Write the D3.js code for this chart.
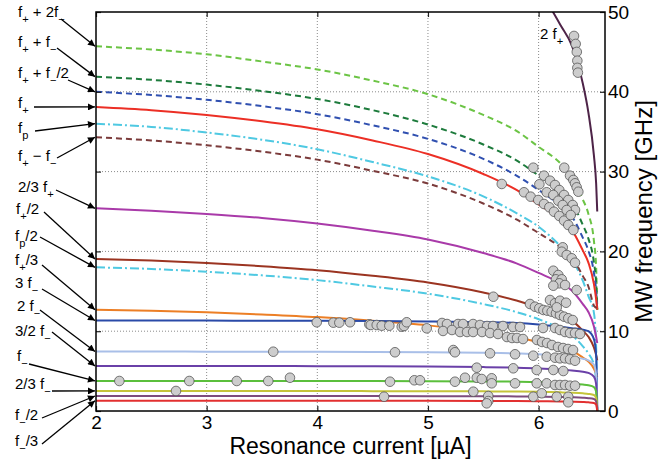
<!DOCTYPE html>
<html><head><meta charset="utf-8">
<script src="https://cdn.jsdelivr.net/npm/d3@7"></script>
<style>
body{margin:0;background:#fff}
svg{display:block;font-family:"Liberation Sans",Arial,Helvetica,sans-serif}
text{white-space:pre}
</style>
</head><body><svg id="c" width="669" height="464"></svg>
<script>
// ---------- data ----------
const currents = [2, 2.5, 3, 3.5, 4, 4.5, 5, 5.5, 5.8, 6.0, 6.2, 6.3, 6.4, 6.45, 6.5, 6.52, 6.53];
const fPlusPlus2fMinus   = [45.7, 45.3, 44.7, 43.8, 42.8, 41.4, 39.7, 37.1, 35.1, 33.1, 31.0, 29.4, 26.5, 24.7, 21.3, 18.0, 12.7];
const fPlusPlusfMinus    = [41.9, 41.5, 40.9, 40.1, 39.1, 37.7, 35.9, 33.4, 31.4, 29.5, 27.5, 26.1, 23.3, 21.6, 18.6, 16.0, 12.7];
const fPlusPlusHalfMinus = [40.0, 39.6, 39.0, 38.2, 37.2, 35.8, 34.1, 31.6, 29.5, 27.7, 25.7, 24.4, 21.7, 20.1, 17.3, 15.0, 12.7];
const fPlus              = [38.1, 37.7, 37.1, 36.3, 35.3, 33.9, 32.2, 29.7, 27.7, 25.9, 24.0, 22.7, 20.1, 18.6, 15.9, 14.0, 12.7];
const fP                 = [36.0, 35.6, 34.9, 34.0, 32.8, 31.2, 29.4, 26.9, 24.8, 23.1, 20.6, 19.0, 16.3, 14.4, 12.3, 8.0, 0];
const fPlusMinusfMinus   = [34.3, 33.9, 33.3, 32.5, 31.5, 30.1, 28.5, 26.0, 24.0, 22.3, 20.5, 19.3, 16.9, 15.6, 13.2, 12.9, 12.6];
const twoThirdsfPlus     = [25.4, 25.1, 24.7, 24.2, 23.5, 22.6, 21.5, 19.8, 18.5, 17.3, 16.0, 15.1, 13.4, 12.4, 10.6, 9.3, 8.5];
const halffPlus          = [19.05, 18.85, 18.55, 18.15, 17.65, 16.95, 16.1, 14.85, 13.85, 12.95, 12.0, 11.35, 10.05, 9.3, 7.95, 7.0, 6.35];
const halffP             = [18.0, 17.8, 17.45, 17.0, 16.4, 15.6, 14.7, 13.4, 12.4, 11.5, 10.3, 9.5, 8.1, 7.2, 5.8, 3.5, 0];
const thirdfPlus         = [12.7, 12.57, 12.37, 12.1, 11.77, 11.3, 10.73, 9.9, 9.23, 8.63, 8.0, 7.57, 6.7, 6.2, 5.3, 4.67, 4.23];
const threefMinus        = [11.34, 11.34, 11.33, 11.32, 11.31, 11.28, 11.22, 11.13, 11.04, 10.85, 10.55, 10.38, 10.2, 10.0, 9.0, 7.0, 0];
const twofMinus          = [7.45, 7.45, 7.44, 7.43, 7.42, 7.4, 7.37, 7.3, 7.22, 7.12, 6.9, 6.75, 6.55, 6.35, 5.8, 4.5, 0];
const threeHalvesfMinus  = [5.65, 5.65, 5.64, 5.63, 5.62, 5.6, 5.57, 5.5, 5.42, 5.33, 5.18, 5.08, 4.93, 4.78, 4.3, 3.4, 0];
const fMinus             = [3.77, 3.77, 3.77, 3.76, 3.76, 3.75, 3.74, 3.71, 3.68, 3.63, 3.52, 3.44, 3.32, 3.22, 3.0, 2.4, 0];
const twoThirdsfMinus    = [2.51, 2.51, 2.51, 2.5, 2.5, 2.49, 2.48, 2.46, 2.44, 2.41, 2.34, 2.29, 2.21, 2.14, 2.0, 1.6, 0];
const halffMinus         = [1.88, 1.88, 1.88, 1.88, 1.88, 1.87, 1.86, 1.85, 1.83, 1.81, 1.76, 1.72, 1.66, 1.61, 1.5, 1.2, 0];
const thirdfMinus        = [1.29, 1.29, 1.29, 1.28, 1.28, 1.28, 1.27, 1.26, 1.25, 1.23, 1.2, 1.17, 1.13, 1.09, 1.0, 0.8, 0];

const twofPlusCurrents = [6.05, 6.13, 6.2, 6.3, 6.4, 6.45, 6.5, 6.52, 6.53];
const twofPlus         = [51.8, 50.0, 48.3, 45.8, 41.0, 37.4, 32.0, 28.5, 25.0];

const seriesLabels = [
  "f{+} + 2f{−}", "f{+} + f{−}", "f{+} + f{−}/2", "f{+}", "f{p}", "f{+} − f{−}",
  "2/3 f{+}", "f{+}/2", "f{p}/2", "f{+}/3", "3 f{−}", "2 f{−}", "3/2 f{−}",
  "f{−}", "2/3 f{−}", "f{−}/2", "f{−}/3"
];
const seriesValues = [
  fPlusPlus2fMinus, fPlusPlusfMinus, fPlusPlusHalfMinus, fPlus, fP, fPlusMinusfMinus,
  twoThirdsfPlus, halffPlus, halffP, thirdfPlus, threefMinus, twofMinus, threeHalvesfMinus,
  fMinus, twoThirdsfMinus, halffMinus, thirdfMinus
];

// measured resonances [current µA, frequency GHz]
const observed = [
  [6.32,47.0],[6.335,46.0],[6.345,45.0],[6.35,43.9],[6.35,43.0],[6.355,42.4],
  [5.667,28.45],[5.952,30.49],[6.232,30.49],[6.049,29.49],[6.007,28.41],[6.073,27.41],
  [6.103,28.86],[6.148,28.32],[6.187,27.69],[6.230,27.07],[6.268,26.44],[6.308,25.81],
  [6.329,25.19],[6.284,29.49],[6.314,28.95],[6.329,28.53],[6.344,28.03],[6.359,27.48],
  [5.868,27.41],[5.928,26.86],[5.997,26.44],[6.049,25.94],[6.097,25.53],[6.139,24.97],
  [6.187,24.44],[6.230,23.85],[6.268,23.31],[6.314,22.68],[6.133,27.07],[6.178,26.35],
  [6.218,25.81],[6.254,25.19],[6.290,24.56],[6.218,20.51],
  [6.209,19.96],[6.254,19.55],[6.299,19.14],[6.329,18.58],[6.133,17.58],[6.178,17.04],
  [6.157,16.50],[6.209,16.50],[6.187,16.00],[6.133,15.70],[6.239,15.79],[6.344,15.16],
  [5.591,14.32],[5.922,13.41],[5.967,13.07],[6.006,12.87],[6.043,12.66],[6.079,12.57],
  [6.118,12.44],[6.157,12.24],[6.193,12.03],[6.230,11.82],[6.268,11.62],[6.308,11.40],
  [6.103,13.91],[6.148,13.50],[6.193,13.82],[6.248,13.57],[6.164,12.99],
  [5.127,11.03],[5.172,10.90],[5.272,10.90],[5.317,10.90],[5.408,10.90],[5.470,10.78],
  [5.534,10.65],[5.588,10.65],[5.678,10.65],[5.769,10.53],[5.832,10.53],[6.040,10.40],
  [6.148,10.40],[6.193,10.15],[6.239,9.90],[6.284,9.77],[6.329,9.77],[6.374,9.65],
  [5.136,10.03],[5.217,10.15],[5.290,9.90],[5.353,9.90],[5.408,9.90],[5.489,9.90],
  [5.561,9.77],[5.633,9.65],[5.714,9.27],[5.760,9.15],[5.805,9.15],[5.859,9.02],
  [5.985,8.90],[6.031,8.65],[6.076,8.52],[6.121,8.27],[6.175,8.02],[6.221,7.89],
  [6.266,7.77],[6.311,7.64],
  [3.995,11.12],[4.145,11.07],[4.199,11.07],[4.296,11.12],[4.470,10.86],[4.483,10.78],
  [4.537,10.78],[4.582,10.69],[4.651,10.69],[4.763,10.56],[4.784,10.65],[4.808,11.12],
  [4.989,10.36],[4.702,7.36],[3.753,4.17],[4.657,3.67],[4.877,3.85],[4.928,3.85],[4.603,1.79],
  [2.211,3.76],[2.843,3.76],[3.272,3.76],[3.557,3.76],[2.723,2.51],[3.602,7.43],
  [5.229,7.64],[5.244,7.36],[5.561,7.23],[5.787,7.11],[5.952,6.93],[6.073,6.80],
  [6.148,6.68],[6.193,6.60],[6.239,6.60],[6.284,6.48],[6.329,6.30],
  [5.441,5.43],[5.771,5.35],[5.983,5.14],[6.133,5.14],[6.223,5.01],
  [5.244,3.67],[5.335,4.17],[5.441,4.17],[5.486,4.01],[5.576,4.10],[5.576,3.47],
  [5.787,3.47],[5.983,3.47],[6.073,3.47],[6.148,3.26],[6.193,3.26],[6.239,3.26],
  [6.284,3.17],[6.329,3.17],
  [5.410,2.42],[5.545,1.88],[5.545,1.25],[5.531,0.96],[5.952,1.79],[6.028,2.22],
  [6.164,1.79],[6.268,1.79],[6.268,1.09]
];

const xTicks = [2, 3, 4, 5, 6];
const yTicks = [0, 10, 20, 30, 40, 50];
const xTitle = "Resonance current [µA]";
const yTitle = "MW frequency [GHz]";

// ---------- styles / layout ----------
const seriesColors = ["#6cc445","#1d7b3c","#3050b0","#ec2f25","#4fc9e2","#7b3b3b",
  "#a93aa9","#9b3421","#4fc9e2","#ec7f26","#2a4aa8","#a9bfe8","#6a40a8",
  "#5bbf3c","#c5c43a","#7d4c7d","#e23030"];
const seriesDash = ["6,4","6,4","6,4",null,"9,3,2,3","6,4",null,null,"9,3,2,3",null,null,null,null,null,null,null,null];
// [text x, text baseline y, arrow start x, arrow start y]
const labelLayout = [
  [18,17,61,19],[18,47,57,48],[18,78,68,80],[18,108,34,107],[18,133,35,131],[18,161,57,158],
  [18,192,56,190],[16,214,44,212],[15,241,40,237],[15,265,42,265],[15,288,42,289],
  [17,311,40,310],[15,336,52,332],[17,361,29,364],[15,389,52,391],[15,420,42,418],[15,446,42,444]
];

const svg = d3.select("#c");
const x = d3.scaleLinear().domain([2, 6.6]).range([96, 605]);
const y = d3.scaleLinear().domain([0, 50]).range([411, 12]);

const defs = svg.append("defs");
defs.append("clipPath").attr("id","plotclip").append("rect")
  .attr("x",96).attr("y",12).attr("width",509).attr("height",399);
defs.append("marker").attr("id","arr").attr("viewBox","0 0 10 10")
  .attr("refX",10).attr("refY",5).attr("markerWidth",10).attr("markerHeight",7)
  .attr("markerUnits","userSpaceOnUse").attr("orient","auto")
  .append("path").attr("d","M0,0L10,5L0,10z").attr("fill","#000");

// grid
const grid = svg.append("g").attr("stroke","#8a8a8a").attr("stroke-width",1).attr("stroke-dasharray","1,2");
xTicks.filter(t => t > 2).forEach(t => grid.append("line")
  .attr("x1",x(t)).attr("x2",x(t)).attr("y1",y(50)).attr("y2",y(0)));
yTicks.filter(t => t > 0 && t < 50).forEach(t => grid.append("line")
  .attr("x1",x(2)).attr("x2",x(6.6)).attr("y1",y(t)).attr("y2",y(t)));

// curves
const line = d3.line().x(d => x(d[0])).y(d => y(d[1])).curve(d3.curveMonotoneX);
const curves = svg.append("g").attr("clip-path","url(#plotclip)").attr("fill","none");
seriesValues.forEach((vals, i) => {
  const p = curves.append("path")
    .attr("d", line(currents.map((c, j) => [c, vals[j]])))
    .attr("stroke", seriesColors[i]).attr("stroke-width", 2);
  if (seriesDash[i]) p.attr("stroke-dasharray", seriesDash[i]);
});
curves.append("path")
  .attr("d", line(twofPlusCurrents.map((c, j) => [c, twofPlus[j]])))
  .attr("stroke", "#4e2448").attr("stroke-width", 2);

// observed points
svg.append("g").selectAll("circle").data(observed).join("circle")
  .attr("cx", d => x(d[0])).attr("cy", d => y(d[1])).attr("r", 4.8)
  .attr("fill", "#cdcdcd").attr("stroke", "#555").attr("stroke-width", 0.8);

// axes
const axG = svg.append("g");
const axBottom = axG.append("g").attr("transform","translate(0,411)")
  .call(d3.axisBottom(x).tickValues(xTicks).tickSize(-5).tickPadding(5).tickFormat(d3.format("d")));
const axTop = axG.append("g").attr("transform","translate(0,12)")
  .call(d3.axisTop(x).tickValues(xTicks).tickSize(-5).tickFormat(""));
const axLeft = axG.append("g").attr("transform","translate(96,0)")
  .call(d3.axisLeft(y).tickValues(yTicks).tickSize(-5).tickFormat(""));
const axRight = axG.append("g").attr("transform","translate(605,0)")
  .call(d3.axisRight(y).tickValues(yTicks).tickSize(-5).tickPadding(3).tickFormat(d3.format("d")));
[axBottom, axTop, axLeft, axRight].forEach(g => {
  g.select(".domain").remove();
  g.selectAll(".tick line").attr("stroke","#222").attr("stroke-width",1.2);
  g.selectAll("text").attr("font-size",19).attr("fill","#000")
    .attr("font-family",'"Liberation Sans",Arial,sans-serif');
});

// frame
svg.append("rect").attr("x",96).attr("y",12).attr("width",509).attr("height",399)
  .attr("fill","none").attr("stroke","#000").attr("stroke-width",1.5);

// titles
svg.append("text").attr("x", (x(2)+x(6.6))/2).attr("y", 454).attr("text-anchor","middle")
  .attr("font-size", 23).text(xTitle);
svg.append("text").attr("transform", `translate(652,${(y(0)+y(50))/2}) rotate(-90)`)
  .attr("text-anchor","middle").attr("font-size", 24).text(yTitle);

// rich label helper
function rich(sel, str, size) {
  const parts = str.split(/(\{[^}]*\})/).filter(s => s.length);
  let sub = false;
  parts.forEach(p => {
    if (p.startsWith("{")) {
      sel.append("tspan").attr("font-size", size*0.74).attr("dy", size*0.42).text(p.slice(1,-1));
      sub = true;
    } else {
      sel.append("tspan").attr("font-size", size).attr("dy", sub ? -size*0.42 : 0).text(p);
      sub = false;
    }
  });
}

// left labels with arrows
const ann = svg.append("g");
seriesLabels.forEach((lab, i) => {
  const [tx, ty, ax, ay] = labelLayout[i];
  const t = ann.append("text").attr("x", tx).attr("y", ty).attr("fill","#000");
  rich(t, lab, 15);
  ann.append("line").attr("x1", ax).attr("y1", ay)
    .attr("x2", x(2) - 1).attr("y2", y(seriesValues[i][0]))
    .attr("stroke","#000").attr("stroke-width",1.3).attr("marker-end","url(#arr)");
});

// 2 f+ label
const t2 = svg.append("text").attr("x", 540).attr("y", 39).attr("fill","#000");
rich(t2, "2 f{+}", 15);
</script>
</body></html>
